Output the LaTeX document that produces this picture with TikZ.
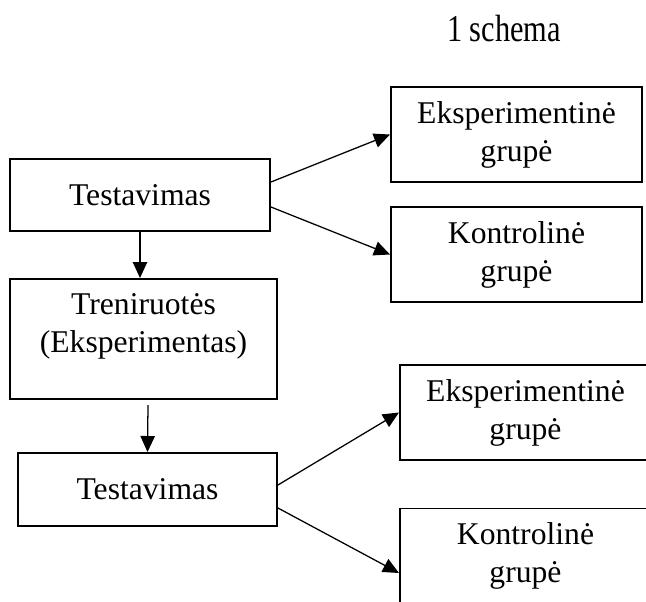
\documentclass[tikz,border=0pt]{standalone}
\usepackage{fontspec}
\setmainfont{Liberation Serif}
\usetikzlibrary{arrows.meta}
\begin{document}
\begin{tikzpicture}[x=0.025cm,y=-0.025cm,
  stagebox/.style={draw,line width=1.4pt,inner sep=0pt,align=center,
    font=\fontsize{22.5pt}{27pt}\selectfont},
  groupbox/.style={stagebox,minimum width=6.275cm,minimum height=2.375cm},
  conn/.style={line width=0.9pt,-{Triangle[length=0.4cm,width=0.36cm]}}]
\clip (0,0) rectangle (646,601);
\node[anchor=base,xscale=0.8,font=\fontsize{27pt}{30pt}\selectfont] (title) at (504,41) {1 schema};
\node[stagebox,minimum width=6.5cm,minimum height=1.8cm] (t1) at (140,195) {Testavimas};
\node[groupbox] (e1) at (516.5,134.5) {Eksperimentinė\\grupė};
\node[groupbox] (k1) at (516.5,254.5) {Kontrolinė\\grupė};
\node[stagebox,minimum width=6.675cm,minimum height=3cm] (tr) at (143.5,339) {};
\node[align=center,font=\fontsize{22.5pt}{27pt}\selectfont] (trtext) at (143.5,326) {Treniruotės\\(Eksperimentas)};
\node[stagebox,minimum width=6.4625cm,minimum height=1.825cm] (t2) at (147.5,489.5) {Testavimas};
\node[groupbox] (e2) at (525.5,412.5) {Eksperimentinė\\grupė};
\node[groupbox] (k2) at (525.5,556) {Kontrolinė\\grupė};
\coordinate (trgap) at (148,405);
\draw[conn] ([yshift=0.325cm]t1.east) -- (e1.west);
\draw[conn] ([yshift=-0.3cm]t1.east) -- (k1.west);
\draw[conn] (t1.south) -- (t1.south |- tr.north);
\draw[conn] (trgap) -- (t2.north);
\draw[conn] ([yshift=0.11cm]t2.east) -- (e2.west);
\draw[conn] ([yshift=-0.46cm]t2.east) -- ([yshift=-0.425cm]k2.west);
\end{tikzpicture}
\end{document}
